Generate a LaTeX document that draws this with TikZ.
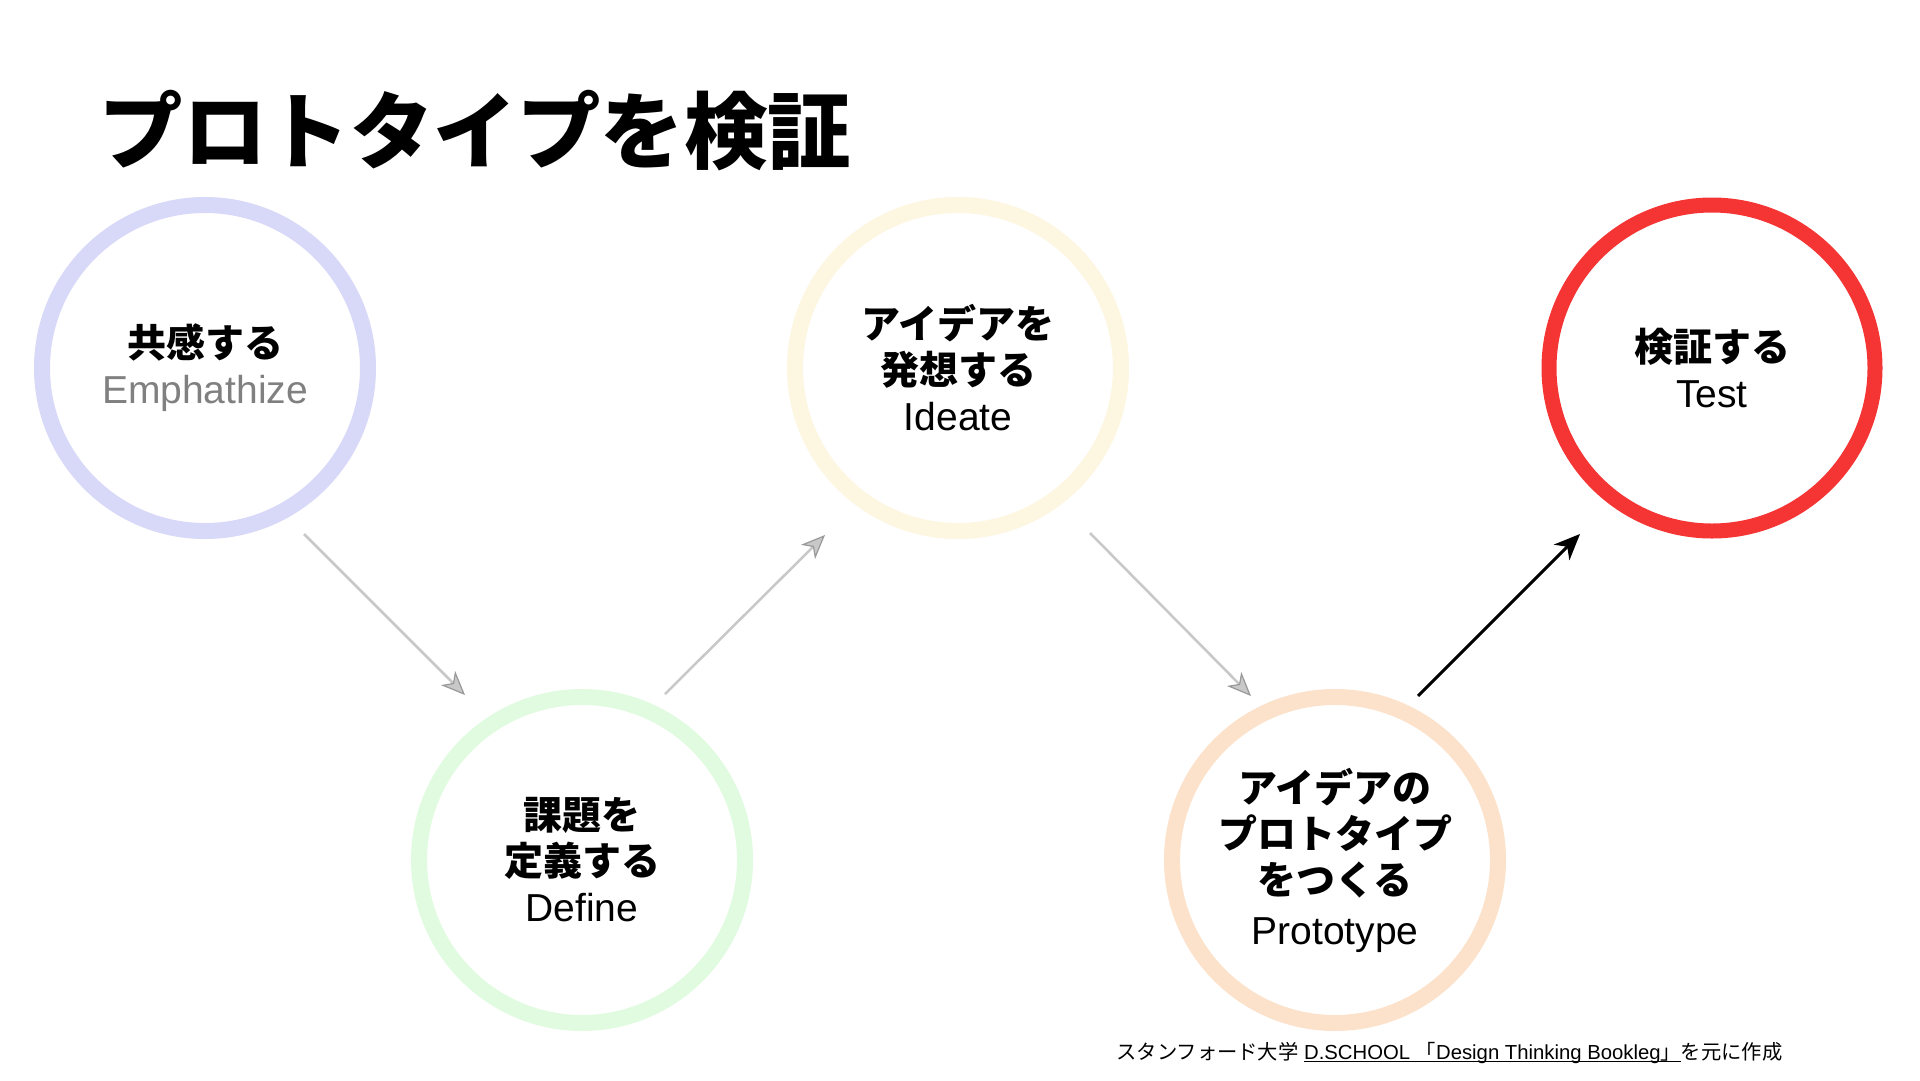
\documentclass[tikz,border=0pt]{standalone}
\usepackage{fontspec}
\setmainfont{Liberation Sans}
\newfontfamily\jp{Noto Sans CJK JP}
\usetikzlibrary{arrows.meta,calc}

\definecolor{empcol}{RGB}{216,216,248}
\definecolor{defcol}{RGB}{224,251,224}
\definecolor{idecol}{RGB}{253,246,224}
\definecolor{procol}{RGB}{252,226,202}
\definecolor{tstcol}{RGB}{245,52,52}
\definecolor{arrgray}{RGB}{200,200,200}

% underline that crosses the descenders
\newcommand{\srcline}[1]{\leavevmode\setbox0\hbox{#1}\rlap{\rule[-2.5pt]{\wd0}{1.2pt}}\box0}

\tikzset{
  stage/.style={circle, line width=16pt, minimum size=326pt, inner sep=0pt,
    align=center, font=\fontsize{39}{46}\selectfont},
  flow/.style={line width=2.5pt, arrgray,
    -{Stealth[length=24pt,width=20pt,inset=7pt,fill=arrgray,color=gray!80,line width=1.2pt]}},
  done/.style={line width=3pt, black, -{Stealth[length=26pt,width=22pt,inset=8pt]}},
}

\begin{document}
\begin{tikzpicture}[x=1pt,y=-1pt]
        \fill[white] (0,0) rectangle (1920,1080);
        \useasboundingbox (0,0) rectangle (1920,1080);
        \node[anchor=west, font=\jp\bfseries\fontsize{83.5}{90}\selectfont] (title) at (96,131) {プロトタイプを検証};
        % five stages
        \node[stage, draw=empcol] (emp) at (205,368) {{\jp\bfseries 共感する}\\\textcolor{gray}{Emphathize}};
        \node[stage, draw=defcol] (def) at (582,860) {{\jp\bfseries 課題を}\\{\jp\bfseries 定義する}\\Define};
        \node[stage, draw=idecol] (ide) at (958,368) {{\jp\bfseries アイデアを}\\{\jp\bfseries 発想する}\\Ideate};
        \node[stage, draw=procol] (pro) at (1335,860) {{\jp\bfseries アイデアの}\\{\jp\bfseries プロトタイプ}\\{\jp\bfseries をつくる}\\[4pt]Prototype};
        \node[stage, draw=tstcol, line width=15pt] (tst) at (1712,368) {{\jp\bfseries 検証する}\\Test};
        % arrows between stages
        \draw[flow] ($(emp)+(99,166)$) -- ($(def)+(-117,-165)$);
        \draw[flow] ($(def)+(83,-166)$) -- ($(ide)+(-133,167)$);
        \draw[flow] ($(ide)+(132,165)$) -- ($(pro)+(-84,-164)$);
        \draw[done] ($(pro)+(83,-164)$) -- ($(tst)+(-132,166)$);
        \node[anchor=east, font=\fontsize{20.3}{24}\selectfont] (src) at (1786,1053) {{\jp スタンフォード大学} \srcline{D.SCHOOL {\jp 「}Design Thinking Bookleg{\jp 」}}{\jp を元に作成}};
    \end{tikzpicture}
\end{document}
